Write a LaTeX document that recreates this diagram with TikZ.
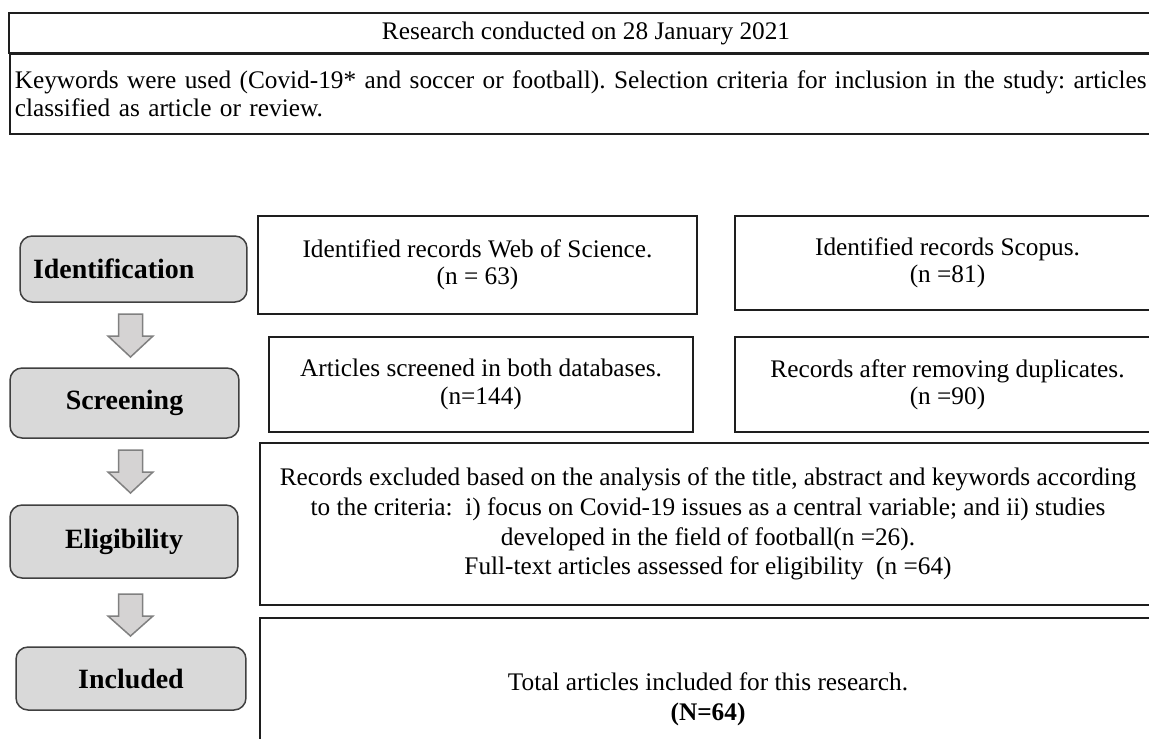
\documentclass[tikz,border=0pt]{standalone}
\usepackage{fontspec}
\setmainfont{Liberation Serif}
\usetikzlibrary{calc}
\frenchspacing
\definecolor{lbfill}{HTML}{D9D9D9}
\definecolor{lbdraw}{HTML}{404040}
\definecolor{arfill}{HTML}{D5D3D3}
\definecolor{ardraw}{HTML}{808080}
\definecolor{bxdraw}{HTML}{1E1E1E}
\newcommand\bodyfont{\fontsize{14.4pt}{15.6pt}\selectfont}
\newcommand\eligfont{\fontsize{14.4pt}{17pt}\selectfont}
\newcommand\labfont{\fontsize{15.9pt}{17pt}\selectfont\bfseries}
\newcommand\blkarrow[3]{%
  \draw[blockarr] (#1-12,#2) -- (#1+12,#2) -- (#1+12,#2+22) -- (#1+22.5,#2+22)
    -- (#1,#3) -- (#1-22.5,#2+22) -- (#1-12,#2+22) -- cycle;}
\begin{document}
\begin{tikzpicture}[x=0.02cm,y=-0.02cm,
  rbox/.style={draw=bxdraw, line width=0.032cm, align=center, inner sep=0pt, font=\bodyfont},
  lbox/.style={draw=lbdraw, fill=lbfill, rounded corners=0.24cm, line width=0.03cm, inner sep=0pt, font=\labfont, align=center},
  blockarr/.style={draw=ardraw, fill=arfill, line width=0.03cm, line join=miter}]
\useasboundingbox (0,0) rectangle (1149,738);
\fill[white] (0,0) rectangle (1149,738);
\clip (0,0) rectangle (1149,738);

% top box
\node[rbox, minimum width=23.08cm, minimum height=0.8cm] (hdr) at (586,33) {Research conducted on 28 January 2021};
\node[rbox, anchor=north west, minimum height=1.6cm, text width=24cm, inner xsep=0.1cm, align=left] (kw) at (9,53)
  {Keywords were used (Covid-19* and soccer or football). Selection criteria for inclusion in the study: articles\\classified as article or review.};

% left stage labels
\node[lbox, minimum width=4.54cm, minimum height=1.32cm, text width=4.02cm, inner xsep=0.26cm, align=left] (id) at (133.5,269) {Identification};
\node[lbox, minimum width=4.58cm, minimum height=1.4cm] (scr) at (124.5,403) {Screening};
\node[lbox, minimum width=4.56cm, minimum height=1.46cm] (elg) at (124,541.5) {Eligibility};
\node[lbox, minimum width=4.6cm, minimum height=1.26cm] (inc) at (131,678.5) {Included};

% block arrows
\blkarrow{130.5}{314}{357}
\blkarrow{130.5}{450}{493}
\blkarrow{130.5}{594}{636}

% right boxes
\node[rbox, minimum width=8.78cm, minimum height=1.96cm] (wos) at (477.5,265) {Identified records Web of Science.\\(n = 63)};
\node[rbox, minimum width=8.5cm, minimum height=1.88cm] (sco) at (947.5,263) {Identified records Scopus.\\(n =81)};
\node[rbox, minimum width=8.48cm, minimum height=1.9cm] (scrn) at (481,384.5) {Articles screened in both databases.\\(n=144)};
\node[rbox, minimum width=8.5cm, minimum height=1.9cm] (dup) at (947.5,384.5) {Records after removing duplicates.\\(n =90)};
\node[rbox, minimum width=17.92cm, minimum height=3.24cm, font=\eligfont] (excl) at (708,524)
  {Records excluded based on the analysis of the title, abstract and keywords according\\
   to the criteria:\ \ i) focus on Covid-19 issues as a central variable; and ii) studies\\
   developed in the field of football(n =26).\\
   Full-text articles assessed for eligibility\ \ (n =64)};
\node[rbox, minimum width=17.92cm, minimum height=3.24cm, font=\eligfont] (tot) at (708,699)
  {Total articles included for this research.\\\textbf{(N=64)}};
\end{tikzpicture}
\end{document}
